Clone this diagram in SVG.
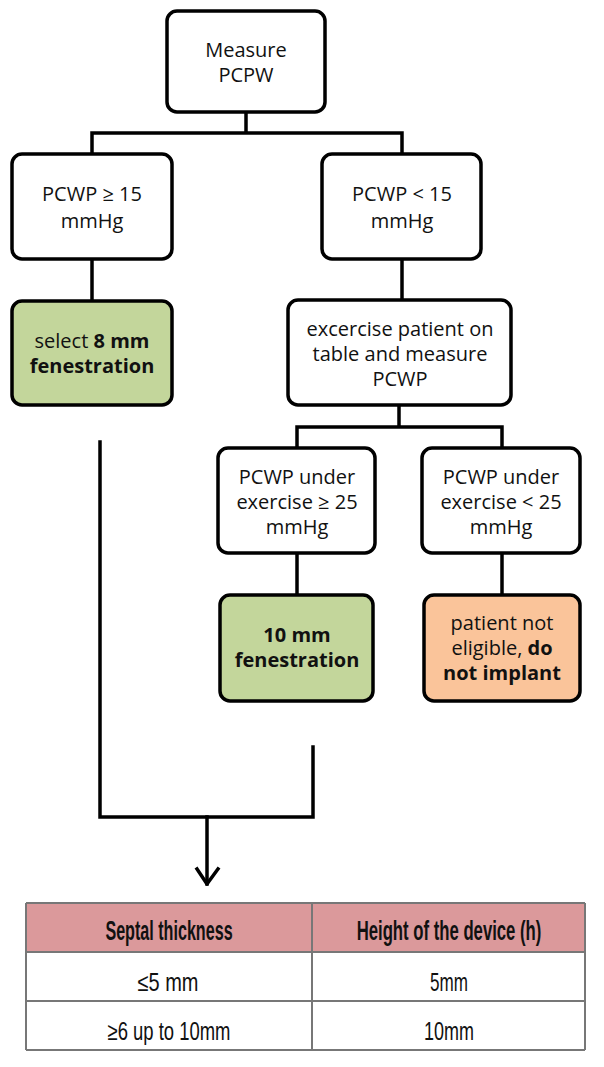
<svg xmlns="http://www.w3.org/2000/svg" width="604" height="1067" viewBox="0 0 604 1067">
<defs>
<style>
.box{fill:#fff;stroke:#000;stroke-width:3.5}
.green{fill:#c3d69b;stroke:#000;stroke-width:3.5}
.orange{fill:#fac49a;stroke:#000;stroke-width:3.5}
.t{font-family:"Open Sans","Liberation Sans",sans-serif;font-size:20px;fill:#111;text-anchor:middle}
.b{font-weight:bold}
.conn{fill:none;stroke:#000;stroke-width:3.5;stroke-linecap:square}
.tt{font-family:"Liberation Sans",Arial,sans-serif;fill:#111;text-anchor:middle}
.th{font-size:27px;font-weight:bold}
.tr{font-size:25px}
.grid{stroke:#777;stroke-width:2}
</style>
</defs>
<rect width="604" height="1067" fill="#fff"/>

<g id="connectors">
<path class="conn" d="M246,112 V133 M92,154 V133 H402 V154"/>
<path class="conn" d="M92,259 V301"/>
<path class="conn" d="M402,259 V300"/>
<path class="conn" d="M399,405 V427 M297,448 V427 H502 V448"/>
<path class="conn" d="M297,553 V595"/>
<path class="conn" d="M502,553 V595"/>
<path class="conn" d="M100,442 V817 H313 V747"/>
<path class="conn" d="M207,817 V884"/>
<polyline class="conn" points="197,869 207,884 218,869" stroke-linecap="round" stroke-linejoin="round"/>
</g>

<g id="n-measure">
<rect class="box" x="167" y="11" width="158" height="101" rx="10"/>
<text class="t" x="246" y="57">Measure</text>
<text class="t" x="246" y="82">PCPW</text>
</g>

<g id="n-high">
<rect class="box" x="12" y="154" width="160" height="105" rx="10"/>
<text class="t" x="92" y="201">PCWP ≥ 15</text>
<text class="t" x="92" y="228">mmHg</text>
</g>

<g id="n-low">
<rect class="box" x="322" y="154" width="159" height="105" rx="10"/>
<text class="t" x="402" y="201">PCWP &lt; 15</text>
<text class="t" x="402" y="228">mmHg</text>
</g>

<g id="n-8mm">
<rect class="green" x="12" y="301" width="160" height="104" rx="10"/>
<text class="t" x="92" y="348">select <tspan class="b">8 mm</tspan></text>
<text class="t b" x="92" y="373">fenestration</text>
</g>

<g id="n-exercise">
<rect class="box" x="288" y="300" width="223" height="105" rx="10"/>
<text class="t" x="400" y="336">excercise patient on</text>
<text class="t" x="400" y="361">table and measure</text>
<text class="t" x="400" y="386">PCWP</text>
</g>

<g id="n-ex-high">
<rect class="box" x="218" y="448" width="157" height="105" rx="10"/>
<text class="t" x="297" y="484">PCWP under</text>
<text class="t" x="297" y="509">exercise ≥ 25</text>
<text class="t" x="297" y="534">mmHg</text>
</g>

<g id="n-ex-low">
<rect class="box" x="422" y="448" width="158" height="105" rx="10"/>
<text class="t" x="501" y="484">PCWP under</text>
<text class="t" x="501" y="509">exercise &lt; 25</text>
<text class="t" x="501" y="534">mmHg</text>
</g>

<g id="n-10mm">
<rect class="green" x="220" y="595" width="153" height="106" rx="10"/>
<text class="t b" x="297" y="642">10 mm</text>
<text class="t b" x="297" y="667">fenestration</text>
</g>

<g id="n-noimplant">
<rect class="orange" x="424" y="595" width="156" height="106" rx="10"/>
<text class="t" x="502" y="630">patient not</text>
<text class="t" x="502" y="655">eligible, <tspan class="b">do</tspan></text>
<text class="t b" x="502" y="680">not implant</text>
</g>

<g id="table">
<rect x="26" y="903" width="559" height="49" fill="#db999b"/>
<rect x="26" y="952" width="559" height="98" fill="#fff"/>
<line class="grid" x1="26" y1="903" x2="585" y2="903" stroke="#555"/>
<line class="grid" x1="26" y1="952" x2="585" y2="952" stroke="#6a3a3a"/>
<line class="grid" x1="26" y1="1001" x2="585" y2="1001" stroke="#444"/>
<line class="grid" x1="26" y1="1050" x2="585" y2="1050" stroke="#444"/>
<line class="grid" x1="26" y1="903" x2="26" y2="1050"/>
<line class="grid" x1="585" y1="903" x2="585" y2="1050"/>
<line class="grid" x1="312" y1="903" x2="312" y2="1050"/>
<text class="tt th" transform="translate(169,940) scale(0.6,1)" x="0" y="0" textLength="212" lengthAdjust="spacingAndGlyphs">Septal thickness</text>
<text class="tt th" transform="translate(449,940) scale(0.62,1)" x="0" y="0" textLength="298" lengthAdjust="spacingAndGlyphs">Height of the device (h)</text>
<text class="tt tr" x="168" y="991" textLength="61" lengthAdjust="spacingAndGlyphs">≤5 mm</text>
<text class="tt tr" x="449" y="991" textLength="38" lengthAdjust="spacingAndGlyphs">5mm</text>
<text class="tt tr" x="169" y="1040" textLength="123" lengthAdjust="spacingAndGlyphs">≥6 up to 10mm</text>
<text class="tt tr" x="449" y="1040" textLength="50" lengthAdjust="spacingAndGlyphs">10mm</text>
</g>
</svg>
